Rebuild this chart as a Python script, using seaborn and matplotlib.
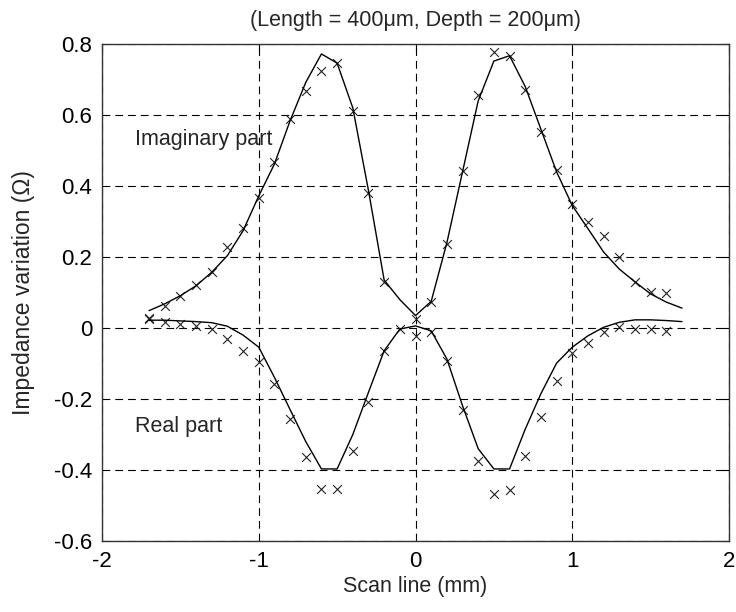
import numpy as np
import pandas as pd
import matplotlib
matplotlib.use("Agg")
import matplotlib.pyplot as plt
import seaborn as sns

# measured points (crosses), scan positions in mm
x_imag_meas = [-1.7, -1.6, -1.5, -1.4, -1.3, -1.2, -1.1, -1.0, -0.9, -0.8, -0.7, -0.6, -0.5, -0.4, -0.3, -0.2,
               0.0, 0.1, 0.2, 0.3, 0.4, 0.5, 0.6, 0.7, 0.8, 0.9, 1.0, 1.1, 1.2, 1.3, 1.4, 1.5, 1.6]
imag_meas = [0.025, 0.063, 0.091, 0.121, 0.157, 0.227, 0.281, 0.365, 0.468, 0.589, 0.667, 0.723, 0.746, 0.610, 0.380, 0.131,
             0.025, 0.072, 0.237, 0.441, 0.656, 0.777, 0.767, 0.670, 0.551, 0.445, 0.349, 0.298, 0.258, 0.201, 0.130, 0.102, 0.098]

x_real_meas = [-1.7, -1.6, -1.5, -1.4, -1.3, -1.2, -1.1, -1.0, -0.9, -0.8, -0.7, -0.6, -0.5, -0.4, -0.3, -0.2, -0.1,
               0.0, 0.1, 0.2, 0.3, 0.4, 0.5, 0.6, 0.7, 0.8, 0.9, 1.0, 1.1, 1.2, 1.3, 1.4, 1.5, 1.6]
real_meas = [0.027, 0.018, 0.011, 0.005, -0.003, -0.031, -0.064, -0.097, -0.158, -0.256, -0.364, -0.454, -0.454, -0.346, -0.209, -0.064, -0.003,
             -0.022, -0.012, -0.094, -0.230, -0.374, -0.468, -0.455, -0.360, -0.252, -0.150, -0.069, -0.042, -0.010, 0.002, -0.003, -0.003, -0.009]

# simulated curves (solid lines)
x_sim = [-1.7, -1.6, -1.5, -1.4, -1.3, -1.2, -1.1, -1.0, -0.9, -0.8, -0.7, -0.6, -0.5, -0.4, -0.3, -0.2, -0.1,
         0.0, 0.1, 0.2, 0.3, 0.4, 0.5, 0.6, 0.7, 0.8, 0.9, 1.0, 1.1, 1.2, 1.3, 1.4, 1.5, 1.6, 1.7]
imag_sim = [0.049, 0.068, 0.091, 0.119, 0.157, 0.204, 0.274, 0.372, 0.462, 0.584, 0.692, 0.772, 0.746, 0.620, 0.387, 0.135, 0.080,
            0.035, 0.075, 0.240, 0.440, 0.640, 0.752, 0.767, 0.680, 0.560, 0.440, 0.345, 0.280, 0.214, 0.166, 0.130, 0.096, 0.073, 0.056]
real_sim = [0.022, 0.022, 0.020, 0.018, 0.015, 0.005, -0.020, -0.054, -0.139, -0.230, -0.320, -0.397, -0.397, -0.300, -0.181, -0.064, -0.003,
            0.006, -0.008, -0.087, -0.219, -0.340, -0.397, -0.397, -0.285, -0.185, -0.099, -0.054, -0.022, 0.002, 0.016, 0.023, 0.023, 0.021, 0.018]

sim_df = pd.DataFrame({"x": x_sim + x_sim,
                       "y": imag_sim + real_sim,
                       "part": ["Imaginary"] * len(x_sim) + ["Real"] * len(x_sim)})
meas_df = pd.DataFrame({"x": x_imag_meas + x_real_meas,
                        "y": imag_meas + real_meas,
                        "part": ["Imaginary"] * len(x_imag_meas) + ["Real"] * len(x_real_meas)})

sns.set_style("white")
plt.rcParams['font.family'] = ['Liberation Sans', 'DejaVu Sans']
plt.rcParams['axes.unicode_minus'] = False

fig = plt.figure(figsize=(7.36, 6.12), dpi=100)
ax = fig.add_axes([0.1386, 0.1160, 0.8519, 0.8121])

sns.lineplot(data=sim_df, x="x", y="y", units="part", estimator=None, sort=False,
             color="black", linewidth=1.0, ax=ax)
sns.scatterplot(data=meas_df, x="x", y="y", marker="x", color="#222222",
                s=40, linewidth=0.8, ax=ax)

ax.set_xlim(-2, 2)
ax.set_ylim(-0.6, 0.8)
xticks = [-2, -1, 0, 1, 2]
yticks = [-0.6, -0.4, -0.2, 0, 0.2, 0.4, 0.6, 0.8]
ax.set_xticks(xticks)
ax.set_xticklabels(["-2", "-1", "0", "1", "2"])
ax.set_yticks(yticks)
ax.set_yticklabels(["-0.6", "-0.4", "-0.2", "0", "0.2", "0.4", "0.6", "0.8"])
ax.tick_params(direction="in", length=5, width=0.8, top=True, right=True,
               labelsize=16, colors="black", pad=7)
ax.grid(True, color="black", linestyle=(0, (7, 4.5)), linewidth=0.8)
for sp in ax.spines.values():
    sp.set_color("#333333")
    sp.set_linewidth(1.0)

ax.text(-1.79, 0.53, "Imaginary part", fontsize=15.5, va="center", ha="left")
ax.text(-1.79, -0.278, "Real part", fontsize=15.5, va="center", ha="left")

ax.set_title("(Length = 400μm, Depth = 200μm)", fontsize=15.5, pad=13)
ax.set_xlabel("Scan line (mm)", fontsize=15.5, labelpad=3)
ax.set_ylabel("Impedance variation (Ω)", fontsize=16.5, labelpad=14)

fig.savefig("out.png", dpi=100)
